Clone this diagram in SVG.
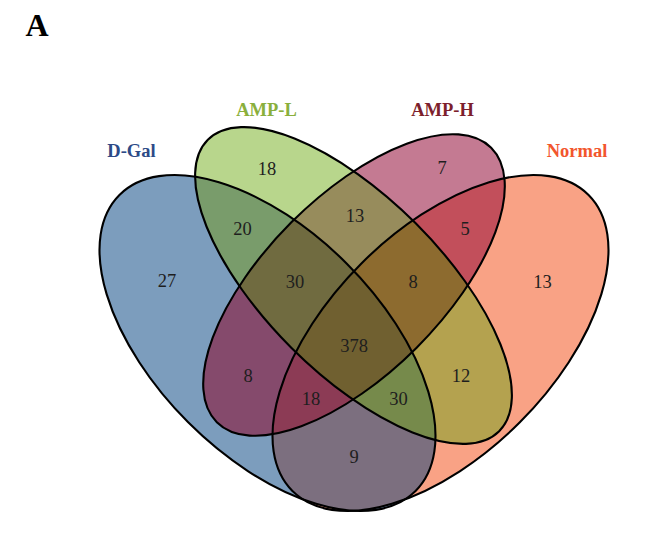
<svg xmlns="http://www.w3.org/2000/svg" xmlns:xlink="http://www.w3.org/1999/xlink" width="650" height="538" viewBox="0 0 650 538">
<style>
.lbl{font-family:"Liberation Serif","Times New Roman",serif;font-weight:bold;font-size:18.5px;text-anchor:middle}
.num{font-family:"Liberation Serif","Times New Roman",serif;font-size:18.5px;fill:#1e1e1e;text-anchor:middle}
.outline{fill:none;stroke:#000;stroke-width:2.1}
</style>
<defs>
<ellipse id="eD" cx="267.5" cy="343" rx="209.4" ry="112.2" transform="rotate(45 267.5 343)"/>
<ellipse id="eL" cx="353.5" cy="285.5" rx="206" ry="88" transform="rotate(45 353.5 285.5)"/>
<ellipse id="eH" cx="354" cy="285" rx="194" ry="88.6" transform="rotate(-45 354 285)"/>
<ellipse id="eN" cx="440.5" cy="343" rx="209.4" ry="112.2" transform="rotate(-45 440.5 343)"/>
<clipPath id="cD"><use xlink:href="#eD"/></clipPath>
<clipPath id="cL"><use xlink:href="#eL"/></clipPath>
<clipPath id="cH"><use xlink:href="#eH"/></clipPath>
<clipPath id="cN"><use xlink:href="#eN"/></clipPath>
</defs>
<rect width="650" height="538" fill="#ffffff"/>
<text x="37" y="36" font-family="Liberation Serif, Times New Roman, serif" font-weight="bold" font-size="32" text-anchor="middle" fill="#000">A</text>
<g id="fills">
<use xlink:href="#eD" fill="#7c9dbd"/>
<use xlink:href="#eN" fill="#f9a285"/>
<use xlink:href="#eL" fill="#b8d68c"/>
<use xlink:href="#eH" fill="#c47a92"/>
<use xlink:href="#eD" clip-path="url(#cL)" fill="#799c6b"/>
<use xlink:href="#eL" clip-path="url(#cH)" fill="#978c5c"/>
<use xlink:href="#eH" clip-path="url(#cN)" fill="#c24f5b"/>
<use xlink:href="#eD" clip-path="url(#cN)" fill="#7c6f7f"/>
<use xlink:href="#eD" clip-path="url(#cH)" fill="#854a6c"/>
<use xlink:href="#eL" clip-path="url(#cN)" fill="#b4a24f"/>
<g clip-path="url(#cH)"><use xlink:href="#eD" clip-path="url(#cL)" fill="#706b40"/></g>
<g clip-path="url(#cN)"><use xlink:href="#eL" clip-path="url(#cH)" fill="#8d6b2f"/></g>
<g clip-path="url(#cN)"><use xlink:href="#eD" clip-path="url(#cH)" fill="#8c3b55"/></g>
<g clip-path="url(#cN)"><use xlink:href="#eD" clip-path="url(#cL)" fill="#768a4b"/></g>
<g clip-path="url(#cN)"><g clip-path="url(#cH)"><use xlink:href="#eD" clip-path="url(#cL)" fill="#706030"/></g></g>
</g>
<g id="set-dgal">
<use xlink:href="#eD" class="outline"/>
<text class="lbl" x="131.5" y="157" fill="#2d4a87">D-Gal</text>
</g>
<g id="set-ampl">
<use xlink:href="#eL" class="outline"/>
<text class="lbl" x="266.5" y="116" fill="#8aaf3c">AMP-L</text>
</g>
<g id="set-amph">
<use xlink:href="#eH" class="outline"/>
<text class="lbl" x="442.5" y="116" fill="#7d1f2c">AMP-H</text>
</g>
<g id="set-normal">
<use xlink:href="#eN" class="outline"/>
<text class="lbl" x="577" y="156.5" fill="#f2562d">Normal</text>
</g>
<g id="counts">
<text class="num" x="267" y="175">18</text>
<text class="num" x="442" y="174">7</text>
<text class="num" x="242.5" y="234.5">20</text>
<text class="num" x="355" y="221.5">13</text>
<text class="num" x="465" y="234.5">5</text>
<text class="num" x="167" y="287">27</text>
<text class="num" x="295" y="288">30</text>
<text class="num" x="413" y="288">8</text>
<text class="num" x="542.5" y="287.5">13</text>
<text class="num" x="354" y="351.5">378</text>
<text class="num" x="248" y="382">8</text>
<text class="num" x="461" y="381.5">12</text>
<text class="num" x="311" y="404.5">18</text>
<text class="num" x="398.5" y="404.5">30</text>
<text class="num" x="354" y="463">9</text>
</g>
</svg>
